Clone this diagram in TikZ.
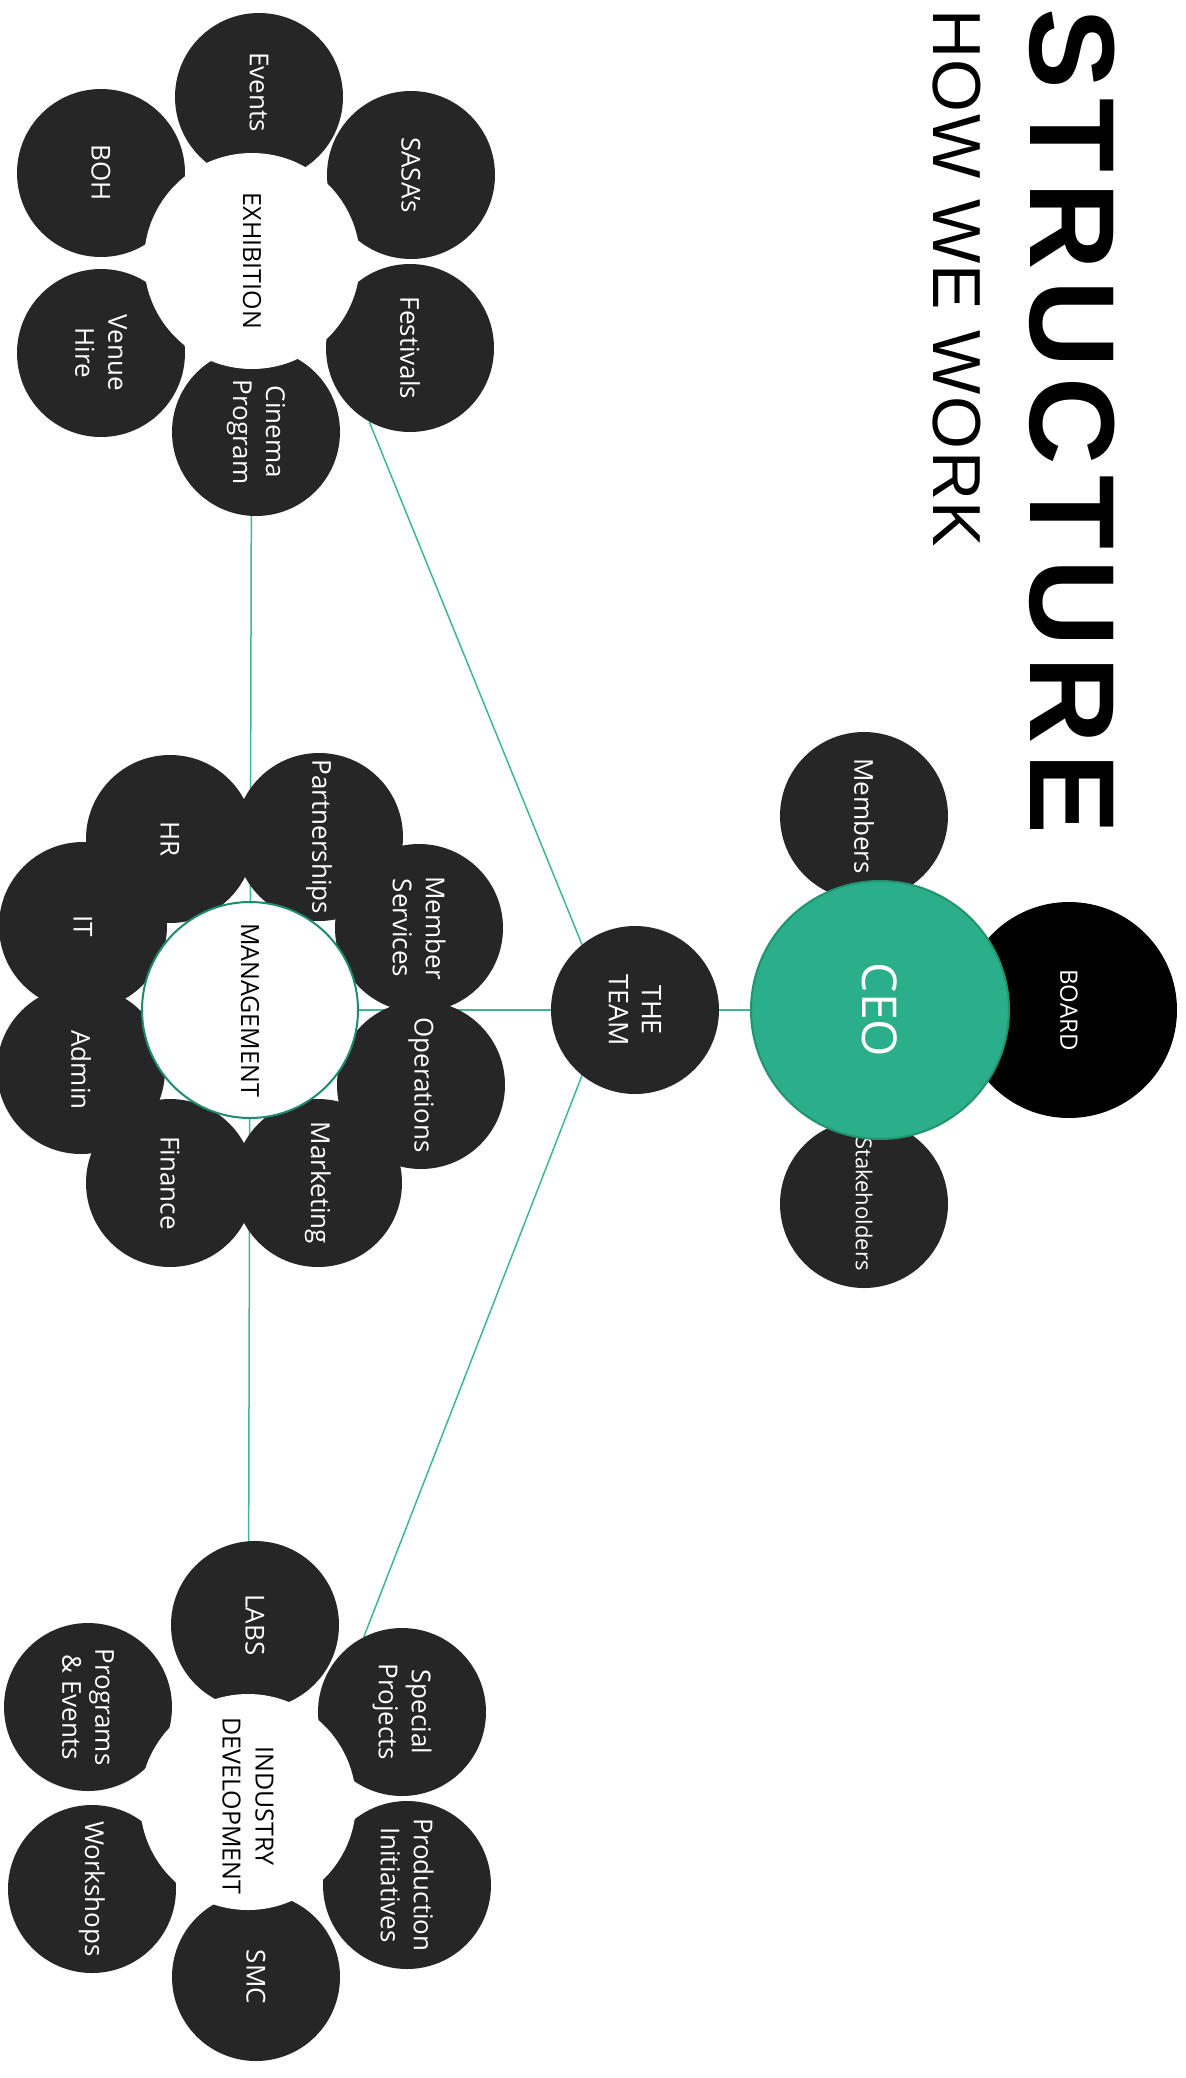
\documentclass[tikz,border=0pt]{standalone}
\usepackage{fontspec}
\setmainfont{Open Sans}
\newfontfamily\titlefont[LetterSpace=8.3]{Liberation Sans}
\newfontfamily\subfont[LetterSpace=2.4]{Liberation Sans}
\pgfdeclarelayer{background}
\pgfsetlayers{background,main}
\definecolor{darkc}{HTML}{262626}
\definecolor{ceoc}{HTML}{2BAE8A}
\definecolor{ceob}{HTML}{23926F}
\definecolor{linec}{HTML}{3DB894}
\definecolor{mgmtb}{HTML}{1E8C6C}
\begin{document}
\begin{tikzpicture}[x=1pt,y=-1pt,
  dark/.style={circle, fill=darkc, minimum size=168pt, inner sep=0pt},
  hub/.style={circle, fill=white, minimum size=216pt, inner sep=0pt},
  lbl/.style={rotate=-90, text=white, align=center, inner sep=0pt, font=\fontsize{26}{33}\selectfont},
  hublbl/.style={rotate=-90, text=black, align=center, inner sep=0pt, font=\fontsize{25}{33}\selectfont},
  conn/.style={draw=linec, line width=1.5pt}]
\useasboundingbox (0,0) rectangle (1186,2078);

% ---------- EXHIBITION ----------
\node[dark] (events) at (259,97) {};
\node[dark] (sasa) at (411,175) {};
\node[dark] (boh) at (101,173) {};
\node[dark] (venue) at (101,353) {};
\node[dark] (fest) at (410,348) {};
\node[dark] (cinema) at (256,432) {};
\node[hub] (exh) at (252,261) {};
\node[lbl] at (259,92) {Events};
\node[lbl] at (sasa) {SASA’s};
\node[lbl] at (boh) {BOH};
\node[lbl] at (venue) {Venue\\Hire};
\node[lbl] at (fest) {Festivals};
\node[lbl] at (cinema) {Cinema\\Program};
\node[hublbl] at (exh) {EXHIBITION};

% ---------- MANAGEMENT ----------
\node[dark] (part) at (319,837) {};
\node[dark] (hr) at (170,839) {};
\node[dark] (memserv) at (419,928) {};
\node[dark] (it) at (83,926) {};
\node[dark] (ops) at (421,1085) {};
\node[dark] (admin) at (81,1070) {};
\node[dark] (mkt) at (318,1183) {};
\node[dark] (fin) at (170,1183) {};
\node[hub, draw=mgmtb, line width=2pt, minimum size=216pt] (mgmt) at (250,1010) {};
\node[lbl] at (part) {Partnerships};
\node[lbl] at (hr) {HR};
\node[lbl] at (memserv) {Member\\Services};
\node[lbl] at (it) {IT};
\node[lbl] at (ops) {Operations};
\node[lbl] at (admin) {Admin};
\node[lbl] at (mkt) {Marketing};
\node[lbl] at (fin) {Finance};
\node[hublbl] at (mgmt) {MANAGEMENT};

% ---------- INDUSTRY DEVELOPMENT ----------
\node[dark] (labs) at (255,1625) {};
\node[dark] (spec) at (402,1712) {};
\node[dark] (progev) at (88,1707) {};
\node[dark] (work) at (92,1889) {};
\node[dark] (prod) at (407,1885) {};
\node[dark] (smc) at (256,1977) {};
\node[hub] (ind) at (248,1802) {};
\node[lbl] at (labs) {LABS};
\node[lbl] at (spec) {Special\\Projects};
\node[lbl] at (progev) {Programs\\\&~Events};
\node[lbl] at (work) {Workshops};
\node[lbl] at (prod) {Production\\Initiatives};
\node[lbl] at (smc) {SMC};
\node[hublbl] at (248,1806) {INDUSTRY\\DEVELOPMENT};

% ---------- TEAM / CEO ----------
\node[dark] (team) at (635,1010) {};
\node[lbl, font=\fontsize{27}{33}\selectfont] at (team) {THE\\TEAM};
\node[dark] (members) at (864,816) {};
\node[dark] (stake) at (864,1204) {};
\node[lbl] at (members) {Members};
\node[lbl, font=\fontsize{22}{28}\selectfont] at (stake) {Stakeholders};
\node[circle, fill=black, minimum size=216pt, inner sep=0pt] (board) at (1069,1010) {};
\node[circle, fill=ceoc, draw=ceob, line width=2pt, minimum size=258pt, inner sep=0pt] (ceo) at (880,1010) {};
\node[lbl, font=\fontsize{24}{30}\selectfont] at (board) {BOARD};
\node[lbl, font=\fontsize{48}{56}\selectfont] at (ceo) {CEO};

% ---------- TITLE ----------
\node[rotate=-90, anchor=base west, inner sep=0pt, font=\titlefont\bfseries\fontsize{121}{121}\selectfont] (title) at (1030,8) {STRUCTURE};
\node[rotate=-90, anchor=base west, inner sep=0pt, font=\subfont\fontsize{68}{68}\selectfont] (sub) at (933,9) {HOW WE WORK};

% ---------- CONNECTORS ----------
\begin{pgfonlayer}{background}
\path[conn] (exh.center) -- (mgmt.center);
\path[conn] (mgmt.center) -- (ind.center);
\path[conn] (mgmt.center) -- (team.center);
\path[conn] (team.center) -- (ceo.center);
\path[conn] (fest.241) -- (team.129);
\path[conn] (team.231) -- (spec.117);
\end{pgfonlayer}
\end{tikzpicture}
\end{document}
